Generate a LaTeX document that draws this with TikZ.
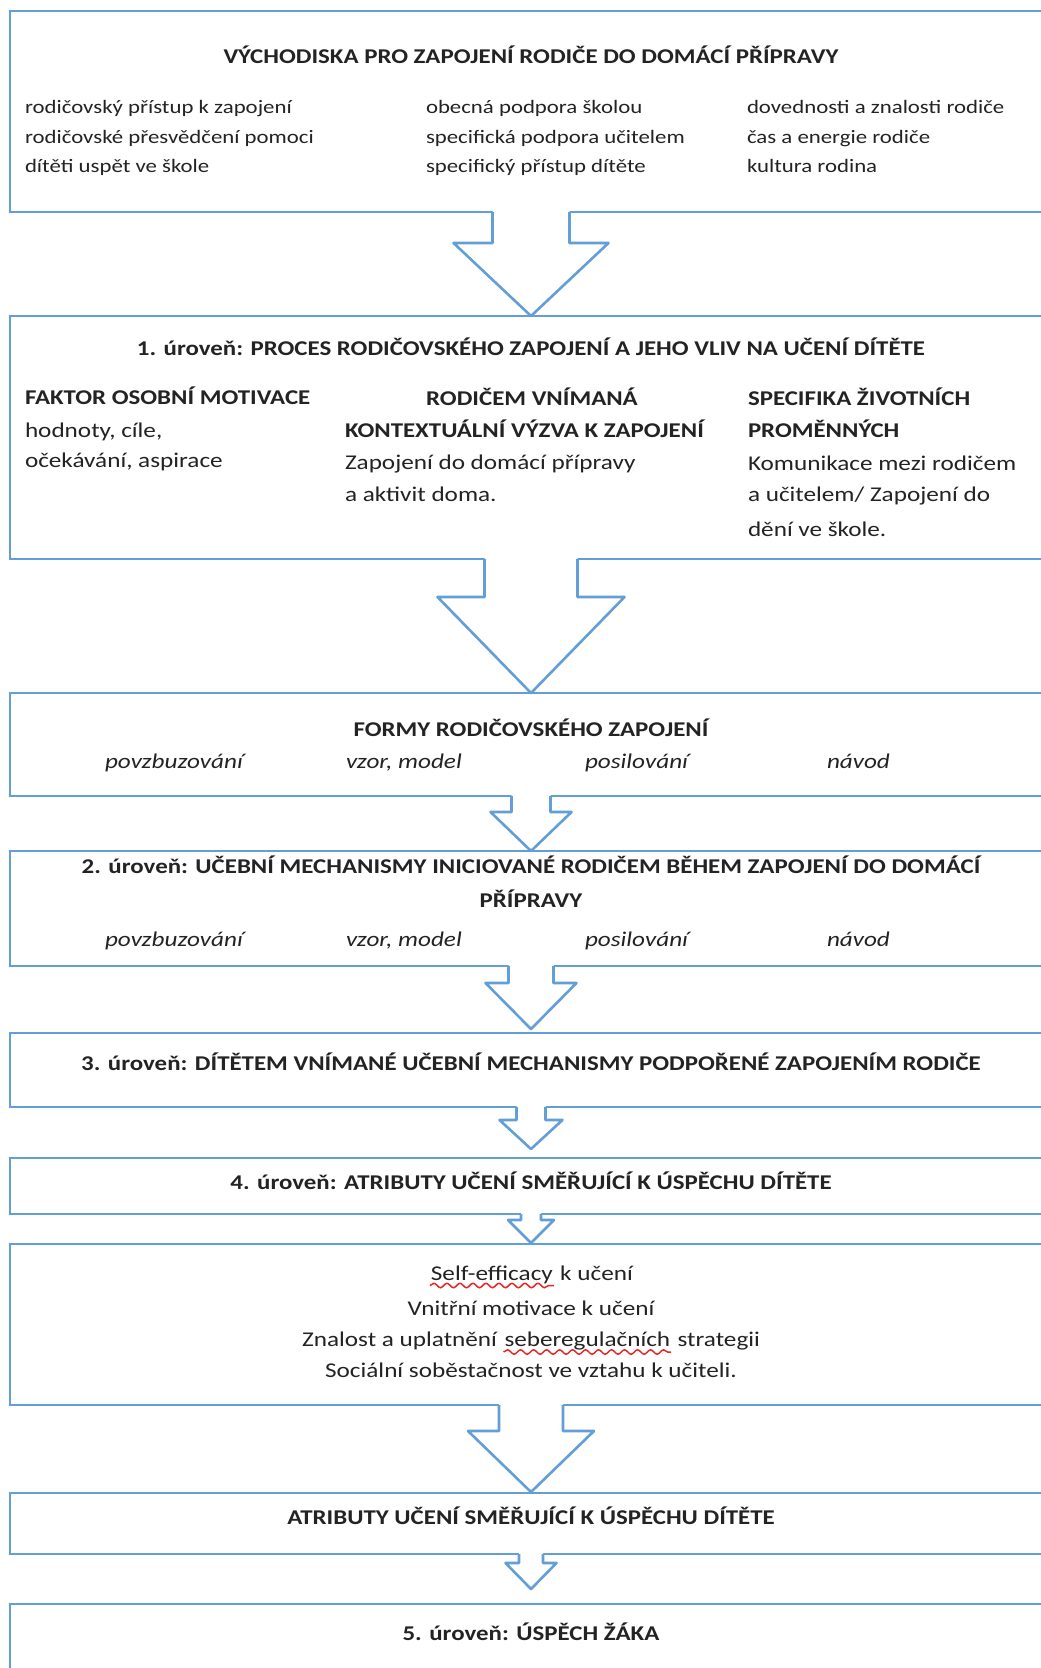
\documentclass[tikz,border=0pt]{standalone}
\usepackage{fontspec}
\setmainfont{Carlito}[FakeStretch=1.2, BoldFeatures={FakeStretch=1.185}]
\usetikzlibrary{calc,decorations.pathmorphing}
\definecolor{lineblue}{RGB}{100,158,214}
\definecolor{txtc}{RGB}{35,35,35}
\definecolor{spellred}{RGB}{230,40,40}
\newcommand\spellerr[1]{\tikz[baseline=(sp.base)]{\node[inner sep=0pt,outer sep=0pt,anchor=base](sp){#1};\draw[spellred,line width=1.5pt,decorate,decoration={snake,amplitude=2.2pt,segment length=13pt}] ([yshift=-5.5pt,xshift=-1pt]sp.base west) -- ([yshift=-5.5pt,xshift=1pt]sp.base east);}}
\newcommand\blockarr[6]{%
  \fill[white] ($(#1.south)+(-#3,-1.6)$) -- ($(#1.south)+(-#3,#4)$) -- ($(#1.south)+(-#5,#4)$) -- ($(#2.north)+(0,-#6)$) -- ($(#1.south)+(#5,#4)$) -- ($(#1.south)+(#3,#4)$) -- ($(#1.south)+(#3,-1.6)$) -- cycle;
  \draw[arrline] ($(#1.south)+(-#3,0)$) -- ($(#1.south)+(-#3,#4)$) -- ($(#1.south)+(-#5,#4)$) -- ($(#2.north)+(0,-#6)$) -- ($(#1.south)+(#5,#4)$) -- ($(#1.south)+(#3,#4)$) -- ($(#1.south)+(#3,0)$);
}
\tikzset{
  boxx/.style={draw=lineblue, line width=2.6pt, minimum width=1042pt, inner sep=0pt, outer sep=0pt},
  arrline/.style={draw=lineblue, line width=2.6pt, line join=round},
  tr/.style={font=\fontsize{21}{25}\selectfont, text=txtc, inner sep=0pt, outer sep=0pt},
  ts/.style={font=\fontsize{19}{23}\selectfont, text=txtc, inner sep=0pt, outer sep=0pt},
  tb/.style={font=\fontsize{21}{25}\selectfont\bfseries, text=txtc, inner sep=0pt, outer sep=0pt},
  ti/.style={font=\fontsize{21}{25}\selectfont\itshape, text=txtc, inner sep=0pt, outer sep=0pt},
}
\begin{document}
\begin{tikzpicture}[x=1pt,y=-1pt]
\useasboundingbox (0,0) rectangle (1041,1668);
\clip (0,0) rectangle (1041,1668);
\fill[white] (0,0) rectangle (1041,1668);
% boxes
\node[boxx, minimum height=201pt] (b1) at (531,111.5) {};
\node[boxx, minimum height=243pt] (b2) at (531,437.5) {};
\node[boxx, minimum height=103pt] (b3) at (531,744.5) {};
\node[boxx, minimum height=115pt] (b4) at (531,908.5) {};
\node[boxx, minimum height=74pt] (b5) at (531,1070) {};
\node[boxx, minimum height=56pt] (b6) at (531,1186) {};
\node[boxx, minimum height=161pt] (b7) at (531,1324.5) {};
\node[boxx, minimum height=61pt] (b8) at (531,1523.5) {};
\node[boxx, minimum height=96pt] (b9) at (531,1652) {};
% arrows
\blockarr{b1}{b2}{38.5}{31}{77.5}{0}
\blockarr{b2}{b3}{46.5}{38}{93.5}{0}
\blockarr{b3}{b4}{19.5}{16}{40.5}{0}
\blockarr{b4}{b5}{22.5}{17}{45.5}{4}
\blockarr{b5}{b6}{14.5}{13}{31.5}{9}
\blockarr{b6}{b7}{10}{6}{23}{1}
\blockarr{b7}{b8}{32}{26}{63}{1}
\blockarr{b8}{b9}{12}{9}{25.5}{15}
% box 1
\node[tb, anchor=base] (t1) at (531,63) {VÝCHODISKA PRO ZAPOJENÍ RODIČE DO DOMÁCÍ PŘÍPRAVY};
\node[ts, anchor=base west] (c11) at (25,113) {rodičovský přístup k zapojení};
\node[ts, anchor=base west] (c12) at (25,143) {rodičovské přesvědčení pomoci};
\node[ts, anchor=base west] (c13) at (25,172) {dítěti uspět ve škole};
\node[ts, anchor=base west] (c21) at (426,113) {obecná podpora školou};
\node[ts, anchor=base west] (c22) at (426,143) {specifická podpora učitelem};
\node[ts, anchor=base west] (c23) at (426,172) {specifický přístup dítěte};
\node[ts, anchor=base west] (c31) at (747,113) {dovednosti a znalosti rodiče};
\node[ts, anchor=base west] (c32) at (747,143) {čas a energie rodiče};
\node[ts, anchor=base west] (c33) at (747,172) {kultura rodina};
% box 2
\node[tb, anchor=base] (t2) at (531,355) {1. úroveň: PROCES RODIČOVSKÉHO ZAPOJENÍ A JEHO VLIV NA UČENÍ DÍTĚTE};
\node[tb, anchor=base west] (d11) at (25,404) {FAKTOR OSOBNÍ MOTIVACE};
\node[tr, anchor=base west] (d12) at (25,437) {hodnoty, cíle,};
\node[tr, anchor=base west] (d13) at (25,467) {očekávání, aspirace};
\node[tb, anchor=base] (d21) at (532,405) {RODIČEM VNÍMANÁ};
\node[tb, anchor=base west] (d22) at (345,437) {KONTEXTUÁLNÍ VÝZVA K ZAPOJENÍ};
\node[tr, anchor=base west] (d23) at (345,469) {Zapojení do domácí přípravy};
\node[tr, anchor=base west] (d24) at (345,501) {a aktivit doma.};
\node[tb, anchor=base west] (d31) at (748,405) {SPECIFIKA ŽIVOTNÍCH};
\node[tb, anchor=base west] (d32) at (748,437) {PROMĚNNÝCH};
\node[tr, anchor=base west] (d33) at (748,470) {Komunikace mezi rodičem};
\node[tr, anchor=base west] (d34) at (748,501.5) {a učitelem/ Zapojení do};
\node[tr, anchor=base west] (d35) at (748,536.5) {dění ve škole.};
% box 3
\node[tb, anchor=base] (t3) at (531,736) {FORMY RODIČOVSKÉHO ZAPOJENÍ};
\node[ti, anchor=base west] (f1) at (105,768) {povzbuzování};
\node[ti, anchor=base west] (f2) at (346,768) {vzor, model};
\node[ti, anchor=base west] (f3) at (585,768) {posilování};
\node[ti, anchor=base west] (f4) at (827,768) {návod};
% box 4
\node[tb, anchor=base] (t4a) at (531,873.5) {2. úroveň: UČEBNÍ MECHANISMY INICIOVANÉ RODIČEM BĚHEM ZAPOJENÍ DO DOMÁCÍ};
\node[tb, anchor=base] (t4b) at (531,907.5) {PŘÍPRAVY};
\node[ti, anchor=base west] (g1) at (105,946.5) {povzbuzování};
\node[ti, anchor=base west] (g2) at (346,946.5) {vzor, model};
\node[ti, anchor=base west] (g3) at (585,946.5) {posilování};
\node[ti, anchor=base west] (g4) at (827,946.5) {návod};
% box 5
\node[tb, anchor=base] (t5) at (531,1070) {3. úroveň: DÍTĚTEM VNÍMANÉ UČEBNÍ MECHANISMY PODPOŘENÉ ZAPOJENÍM RODIČE};
% box 6
\node[tb, anchor=base] (t6) at (531,1189) {4. úroveň: ATRIBUTY UČENÍ SMĚŘUJÍCÍ K ÚSPĚCHU DÍTĚTE};
% box 7
\node[tr, anchor=base] (s1) at (531,1280) {\spellerr{Self-efficacy} k učení};
\node[tr, anchor=base] (s2) at (531,1315) {Vnitřní motivace k učení};
\node[tr, anchor=base] (s3) at (531,1346.5) {Znalost a uplatnění \spellerr{seberegulačních} strategii};
\node[tr, anchor=base] (s4) at (531,1377.5) {Sociální soběstačnost ve vztahu k učiteli.};
% box 8
\node[tb, anchor=base] (t8) at (531,1524) {ATRIBUTY UČENÍ SMĚŘUJÍCÍ K ÚSPĚCHU DÍTĚTE};
% box 9
\node[tb, anchor=base] (t9) at (531,1640) {5. úroveň: ÚSPĚCH ŽÁKA};
\end{tikzpicture}
\end{document}
